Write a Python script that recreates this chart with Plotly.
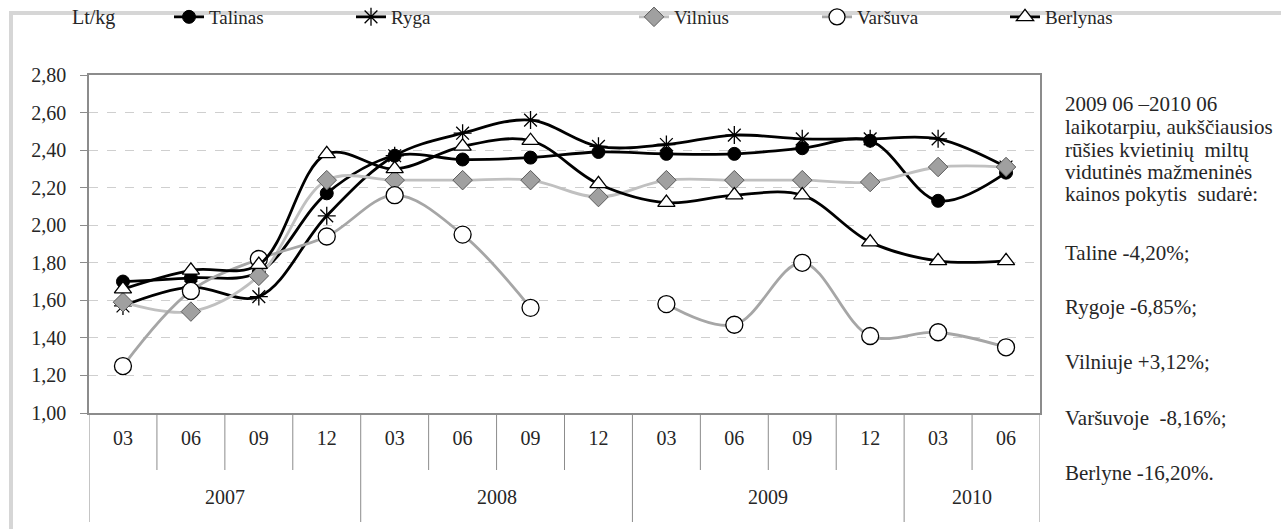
import plotly.graph_objects as go

# Periods (quarter month within year)
months = ["03", "06", "09", "12", "03", "06", "09", "12", "03", "06", "09", "12", "03", "06"]
years = ["2007", "2008", "2009", "2010"]
year_spans = [4, 4, 4, 2]

talinas = [1.70, 1.72, 1.75, 2.17, 2.37, 2.35, 2.36, 2.39, 2.38, 2.38, 2.41, 2.45, 2.13, 2.28]
ryga = [1.57, 1.67, 1.62, 2.05, 2.37, 2.49, 2.56, 2.42, 2.43, 2.48, 2.46, 2.46, 2.46, 2.31]
vilnius = [1.59, 1.54, 1.73, 2.24, 2.24, 2.24, 2.24, 2.15, 2.24, 2.24, 2.24, 2.23, 2.31, 2.31]
varsuva = [1.25, 1.65, 1.82, 1.94, 2.16, 1.95, 1.56, None, 1.58, 1.47, 1.80, 1.41, 1.43, 1.35]
berlynas = [1.66, 1.76, 1.79, 2.38, 2.30, 2.42, 2.45, 2.22, 2.12, 2.16, 2.16, 1.91, 1.81, 1.81]

note_lines = ["2009 06 \u20132010 06", "laikotarpiu, aukščiausios", "rūšies kvietinių  miltų",
              "vidutinės mažmeninės", "kainos pokytis  sudarė:", "Taline -4,20%;", "Rygoje -6,85%;",
              "Vilniuje +3,12%;", "Varšuvoje  -8,16%;", "Berlyne -16,20%."]

FONT = "Liberation Serif"
FS = 20
TXT = "#262626"

W, H = 1281, 529
L, R, T, B = 89, 241, 75, 116
PW, PH = W - L - R, H - T - B


def px_x(p):
    return (p - L) / PW


def px_y(p):
    return (H - B - p) / PH


x = list(range(len(months)))

series = [
    ("Talinas", talinas, "black", dict(symbol="circle", size=13, color="black", line=dict(color="black", width=1))),
    ("Ryga", ryga, "black", dict(symbol="asterisk-open", size=15, color="black", line=dict(color="black", width=1.3))),
    ("Vilnius", vilnius, "#c0c0c0", dict(symbol="diamond", size=15, color="#a0a0a0", line=dict(color="#5a5a5a", width=1))),
    ("Varšuva", varsuva, "#a6a6a6", dict(symbol="circle", size=17, color="white", line=dict(color="black", width=1.3))),
    ("Berlynas", berlynas, "black", dict(symbol="triangle-up", size=15, color="white", line=dict(color="black", width=1.3))),
]
legend_px = [177, 359, 642, 825, 1013]

fig = go.Figure()
layout_legends = {}
for i, (name, vals, col, mk) in enumerate(series):
    lg = "legend" if i == 0 else f"legend{i + 1}"
    fig.add_trace(go.Scatter(x=x, y=vals, name=name, mode="lines+markers",
                             line=dict(color=col, width=2.8, shape="spline", smoothing=1),
                             marker=mk, connectgaps=False, legend=lg, showlegend=True))
    layout_legends[lg] = dict(x=px_x(legend_px[i] - 8), xanchor="left", y=px_y(17), yanchor="middle",
                              orientation="h", bgcolor="rgba(0,0,0,0)", visible=True,
                              font=dict(family=FONT, size=19, color=TXT))

# category dividers below the axis
shapes = []
for b in range(len(months) + 1):
    xb = b - 0.5
    depth = 522 if b in (0, 4, 8, 12, 14) else 470
    shapes.append(dict(type="line", xref="x", yref="paper", x0=xb, x1=xb, y0=0, y1=px_y(depth),
                       line=dict(color="#8c8c8c", width=1)))
# outer frame
shapes.append(dict(type="rect", xref="paper", yref="paper", x0=px_x(11), x1=px_x(1300), y0=px_y(13), y1=px_y(560),
                   line=dict(color="#d6d6d6", width=4), layer="below"))

annotations = []
pos = 0
for yr, span in zip(years, year_spans):
    annotations.append(dict(x=pos + (span - 1) / 2, y=px_y(497), xref="x", yref="paper", text=yr,
                            showarrow=False, yanchor="middle", font=dict(family=FONT, size=FS, color=TXT)))
    pos += span
annotations.append(dict(x=px_x(70), y=px_y(18), xref="paper", yref="paper", text="Lt/kg", showarrow=False,
                        yanchor="middle", font=dict(family=FONT, size=FS, color=TXT)))
note_y = [104, 127, 150, 172, 194, 253, 307, 362, 418, 473]
for t, yy in zip(note_lines, note_y):
    annotations.append(dict(x=px_x(1063), y=px_y(yy), xref="paper", yref="paper", text=t, showarrow=False,
                            xanchor="left", yanchor="middle", font=dict(family=FONT, size=21, color=TXT)))

fig.update_layout(
    width=W, height=H, margin=dict(l=L, r=R, t=T, b=B, autoexpand=False),
    paper_bgcolor="white", plot_bgcolor="white",
    separators=", ",
    font=dict(family=FONT, size=FS, color=TXT),
    xaxis=dict(range=[-0.5, len(months) - 0.5], tickmode="array", tickvals=x, ticktext=months,
               showgrid=False, zeroline=False, showline=True, linecolor="#8c8c8c", linewidth=1.5,
               mirror=True, ticks="", ticklabelstandoff=6, fixedrange=True),
    yaxis=dict(range=[1.0, 2.8], dtick=0.2, tickformat=".2f", showgrid=True, gridcolor="#cfcfcf",
               griddash="dash", gridwidth=1, zeroline=False, showline=True, linecolor="#8c8c8c",
               linewidth=1.5, mirror=True, ticks="outside", ticklen=7, tickcolor="#8c8c8c",
               ticklabelstandoff=10),
    shapes=shapes, annotations=annotations,
    **layout_legends,
)

# drop the default page margin so the figure sits at the window's top-left corner
fig.write_html("out.html", config={"displayModeBar": False},
               post_script="document.body.style.margin='0';")
